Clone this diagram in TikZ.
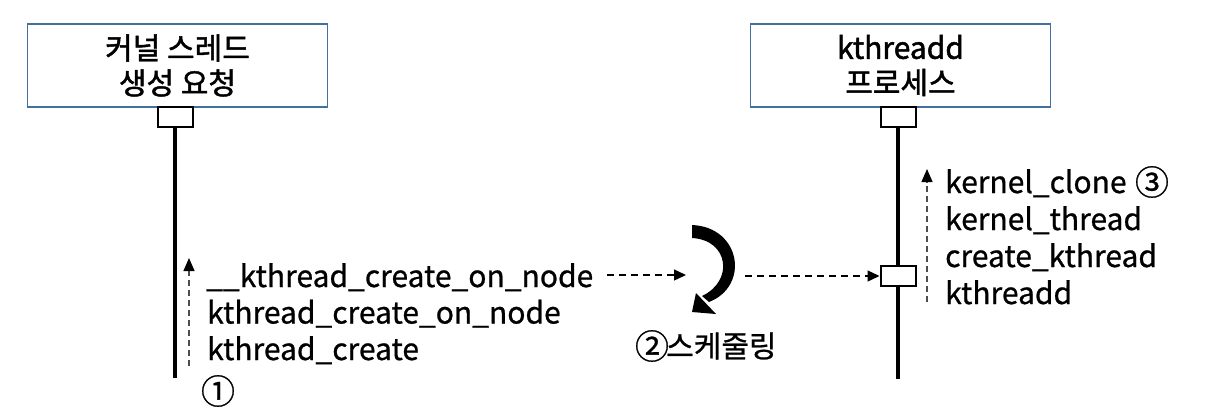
\documentclass[tikz,border=0pt]{standalone}
\usepackage{fontspec}
\setmainfont{Noto Sans CJK KR}[RawFeature={embolden=0.8}]
\newfontfamily\headfont{Noto Sans CJK KR}[RawFeature={embolden=1.6}]
\usetikzlibrary{arrows.meta}
\definecolor{boxblue}{HTML}{41719C}
\tikzset{
	headbox/.style={draw=boxblue, line width=1.5pt, minimum width=300pt, minimum height=83pt, align=center, font=\headfont\fontsize{30}{35}\selectfont},
	actbox/.style={draw, line width=2pt, fill=white, minimum width=35pt, minimum height=20pt, inner sep=0pt},
	lifeline/.style={line width=3.5pt},
	calltext/.style={anchor=base west, inner sep=0pt, font=\fontsize{30}{36}\selectfont},
	callarrow/.style={-{Triangle[length=13pt,width=11pt,color=black]}, dash pattern=on 6pt off 4pt, gray!60!black, line width=1.2pt},
	msgarrow/.style={-{Triangle[length=12pt,width=11pt]}, dash pattern=on 7pt off 5pt, line width=1.3pt}
}
\begin{document}
\begin{tikzpicture}[x=1pt, y=-1pt]
		\useasboundingbox (0,0) rectangle (1220,418);

		\node[headbox] (req) at (177.5,65.5) {커널 스레드\\생성 요청}; % requester head
		\node[headbox] (kth) at (900.5,65.5) {kthreadd\\프로세스}; % kthreadd head

		\node[actbox] (reqtop) at (175,117) {};
		\node[actbox] (kthtop) at (898,117) {};
		\node[actbox] (kthact) at (898,276) {};
		\coordinate (reqend) at (175,378);
		\coordinate (kthend) at (898,379);

		\draw[lifeline] (reqtop.south) -- (reqend); % left lifeline
		\draw[lifeline] (kthtop.south) -- (kthact.north); % right lifeline
		\draw[lifeline] (kthact.south) -- (kthend);

		\node[calltext] (lcall1) at (206,287) {\_\_kthread\_create\_on\_node};
		\node[calltext] (lcall2) at (207,323.5) {kthread\_create\_on\_node};
		\node[calltext] (lcall3) at (207,360) {kthread\_create};
		\node[font=\fontsize{34}{34}\selectfont, inner sep=0pt] (one) at (218,391) {①};

		\node[calltext] (rcall1) at (945,193) {kernel\_clone};
		\node[font=\fontsize{34}{34}\selectfont, inner sep=0pt] (three) at (1152,182) {③};
		\node[calltext] (rcall2) at (945,230) {kernel\_thread};
		\node[calltext] (rcall3) at (945,267) {create\_kthread};
		\node[calltext] (rcall4) at (945,304) {kthreadd};

		\coordinate (lup1) at (189,366);
		\coordinate (lup2) at (189,258);
		\draw[callarrow] (lup1) -- (lup2); % call chain up (left)
		\coordinate (rup1) at (927,302);
		\coordinate (rup2) at (927,169);
		\draw[callarrow] (rup1) -- (rup2); % call chain up (right)

		\coordinate (sched1) at (607,275);
		\coordinate (sched2) at (686,275);
		\coordinate (sched3) at (745,276);
		\draw[msgarrow] (sched1) -- (sched2); % to scheduler
		\draw[msgarrow] (sched3) -- (kthact.west); % wake kthreadd

		\fill (692,225) .. controls (741,227) and (750,286) .. (709,302) -- (702,296) .. controls (734,281) and (729,240) .. (692,238) -- cycle; % scheduling turn
		\fill (692,312) -- (696,293) -- (716,314) -- cycle;
		\node[font=\fontsize{34}{34}\selectfont, inner sep=0pt] (two) at (652,346) {②};
		\node[calltext, anchor=west] (sched) at (666,346) {스케줄링};
	\end{tikzpicture}
\end{document}
